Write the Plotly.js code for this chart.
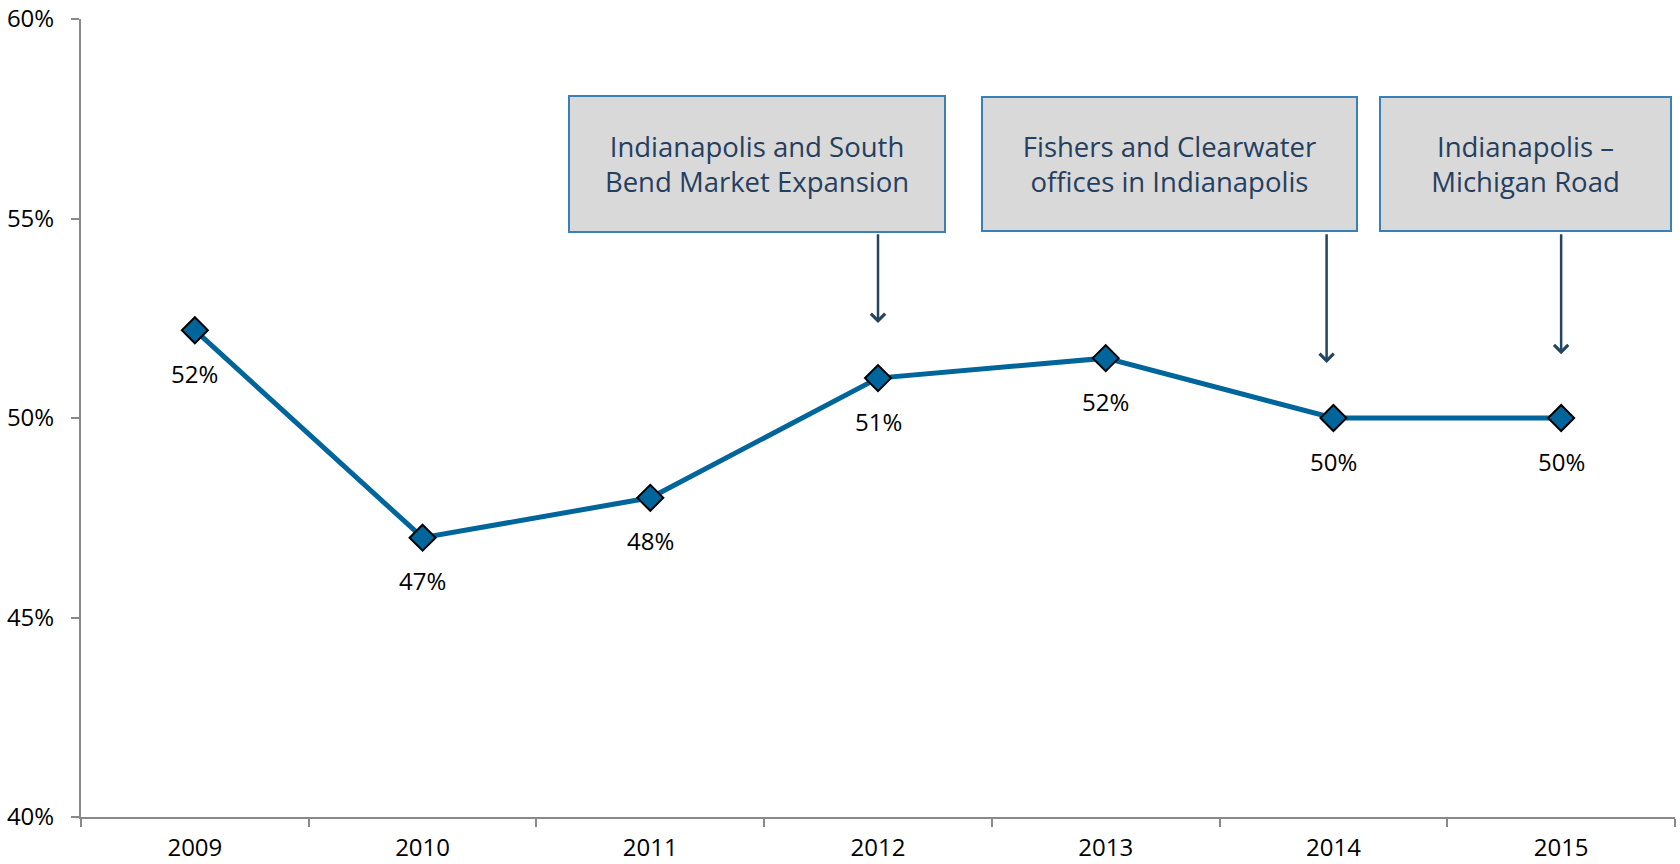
<!DOCTYPE html>
<html>
<head>
<meta charset="utf-8">
<script src="https://cdn.plot.ly/plotly-3.0.1.min.js"></script>
<style>html,body{margin:0;padding:0;background:#fff;}#chart{width:1680px;height:864px;}</style>
</head>
<body>
<div id="chart"></div>
<script>
const years = ['2009','2010','2011','2012','2013','2014','2015'];
const shareValues = [0.522, 0.470, 0.480, 0.510, 0.515, 0.500, 0.500];
const shareLabels = ['52%','47%','48%','51%','52%','50%','50%'];
const yTickValues = [0.40, 0.45, 0.50, 0.55, 0.60];
const eventLabels = ['Indianapolis and South<br>Bend Market Expansion', 'Fishers and Clearwater<br>offices in Indianapolis', 'Indianapolis –<br>Michigan Road'];
const eventYears = ['2012', '2014', '2015'];

const FONT = '"Open Sans", "Noto Sans", sans-serif';
const LINE = '#00659a';

const trace = {
  x: years, y: shareValues, type: 'scatter', mode: 'lines+markers',
  line: {color: LINE, width: 5},
  marker: {symbol: 'diamond', size: 20, color: LINE, line: {color: '#000', width: 2}},
  hoverinfo: 'skip', cliponaxis: false
};

const annotations = [];
// data labels
years.forEach((yr, i) => {
  annotations.push({x: years.indexOf(yr), y: shareValues[i], xref: 'x', yref: 'y', text: shareLabels[i],
    showarrow: false, yshift: -43, font: {family: FONT, size: 24, color: '#000'}});
});
// event boxes (layout positions)
const boxPos = [
  {x: 2.47, w: 374, h: 134},
  {x: 4.28, w: 373, h: 132},
  {x: 5.845, w: 289, h: 132}
];
const arrowShift = [0, -0.03, 0];
const tipY = [0.5238, 0.5138, 0.5160];
eventLabels.forEach((t, k) => {
  annotations.push({x: boxPos[k].x, y: 0.5637, xref: 'x', yref: 'y', text: t, showarrow: false,
    width: boxPos[k].w, height: boxPos[k].h, bgcolor: '#d9d9d9', bordercolor: '#3a80b8', borderwidth: 2, borderpad: 0,
    align: 'center', valign: 'middle', font: {family: FONT, size: 27.5, color: '#243f60'}});
  const xi = years.indexOf(eventYears[k]) + arrowShift[k];
  annotations.push({x: xi, y: tipY[k], xref: 'x', yref: 'y', ax: xi, ay: 0.5464,
    axref: 'x', ayref: 'y', text: '', showarrow: true, arrowhead: 4, arrowsize: 1.1, arrowwidth: 2.5, arrowcolor: '#24455f'});
});

const layout = {
  width: 1680, height: 864,
  margin: {l: 81, r: 5, t: 19, b: 47},
  paper_bgcolor: '#fff', plot_bgcolor: '#fff',
  showlegend: false,
  xaxis: {type: 'category', range: [-0.5, 6.5], showgrid: false, zeroline: false,
    showline: true, linecolor: '#898989', linewidth: 2, ticks: 'outside', tickson: 'boundaries',
    ticklen: 8, tickwidth: 2, tickcolor: '#898989',
    tickfont: {family: FONT, size: 24, color: '#000'}, ticklabelstandoff: 8},
  yaxis: {range: [0.40, 0.60], tickvals: yTickValues, tickformat: '.0%', showgrid: false, zeroline: false,
    showline: true, linecolor: '#898989', linewidth: 2, ticks: 'outside', ticklen: 8, tickwidth: 2, tickcolor: '#898989',
    tickfont: {family: FONT, size: 24, color: '#000'}, ticklabelstandoff: 12},
  annotations: annotations
};

Plotly.newPlot('chart', [trace], layout, {displayModeBar: false, staticPlot: true});
</script>
</body>
</html>
